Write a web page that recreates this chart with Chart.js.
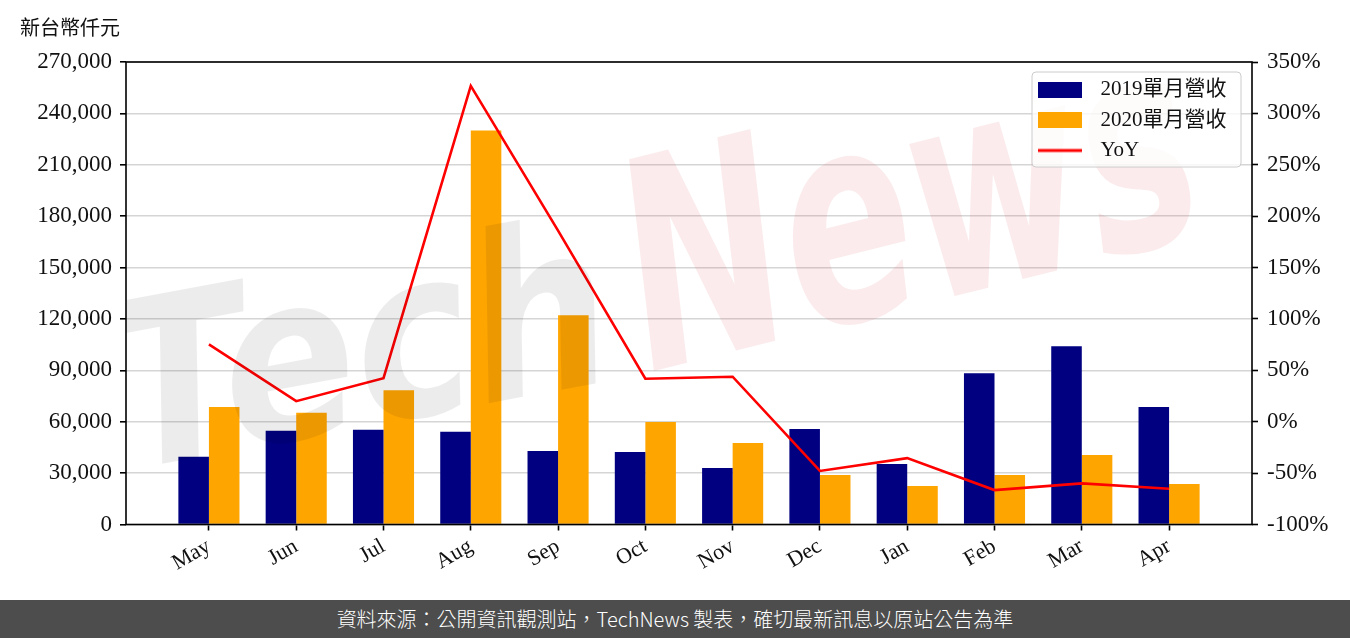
<!DOCTYPE html>
<html lang="zh-Hant-TW">
<head>
<meta charset="utf-8">
<script src="https://cdn.jsdelivr.net/npm/chart.js@4.4.1/dist/chart.umd.min.js"></script>
<style>
  html, body { margin: 0; padding: 0; background: #ffffff; }
  #wrap { width: 1350px; height: 600px; position: relative; }
  #footer { width: 1350px; height: 38px; background: #4d4d4d; color: #ffffff;
    font-family: 'Noto Sans CJK TC', 'Noto Sans', sans-serif; font-size: 20px; font-weight: 300;
    text-align: center; line-height: 38px; }
</style>
</head>
<body>
<div id="wrap"><canvas id="c" width="1350" height="600"></canvas></div>
<div id="footer" lang="zh-Hant-TW">資料來源：公開資訊觀測站，TechNews 製表，確切最新訊息以原站公告為準</div>
<script>
// ---- data ----
const months = ['May', 'Jun', 'Jul', 'Aug', 'Sep', 'Oct', 'Nov', 'Dec', 'Jan', 'Feb', 'Mar', 'Apr'];
const seriesNames = ['2019單月營收', '2020單月營收', 'YoY'];
const rev2019 = [39540, 54700, 55290, 54120, 42870, 42280, 32950, 55700, 35280, 88350, 104100, 68530];
const rev2020 = [68530, 65200, 78440, 230070, 122180, 59780, 47530, 28870, 22450, 28870, 40530, 23620];
const yoy = [75.2, 20.0, 42.4, 326.7, 186.0, 41.8, 43.8, -47.9, -35.4, -66.5, -60.0, -65.2];
const yTitle = '新台幣仟元';
const leftAxis = { min: 0, max: 270000, step: 30000 };
const rightAxis = { min: -100, max: 350, step: 50 };

// ---- styles ----
const LATIN = "'Liberation Serif', 'Noto Sans CJK TC', serif";
const TEXT = '#111111';
const NAVY = '#000080';
const ORANGE = '#FFA500';
const RED = '#FF0000';

function swatch(kind, color) {
  const cv = document.createElement('canvas');
  cv.width = 44; cv.height = 16;
  const g = cv.getContext('2d');
  g.fillStyle = color;
  if (kind === 'rect') g.fillRect(0, 0, 44, 16);
  else g.fillRect(0, 6.5, 44, 3);
  return cv;
}
const swatches = [swatch('rect', NAVY), swatch('rect', ORANGE), swatch('line', RED)];

const frameAndExtras = {
  id: 'frameAndExtras',
  afterDatasetsDraw(chart) {
    const ctx = chart.ctx;
    const a = chart.chartArea;
    // watermark
    ctx.save();
    ctx.beginPath(); ctx.rect(a.left, a.top, a.right - a.left, a.bottom - a.top); ctx.clip();
    ctx.save();
    ctx.font = "bold italic 230px 'DejaVu Sans'";
    ctx.translate(a.left + 2, 470); ctx.rotate(-10.5 * Math.PI / 180); ctx.scale(0.86, 1);
    ctx.fillStyle = 'rgba(0,0,0,0.075)';
    ctx.fillText('Tech', 0, 0);
    ctx.restore();
    ctx.save();
    ctx.font = "bold italic 290px 'DejaVu Sans'";
    ctx.translate(650, 372); ctx.rotate(-14 * Math.PI / 180); ctx.scale(0.66, 1);
    ctx.fillStyle = 'rgba(215,60,70,0.10)';
    ctx.fillText('News', 0, 0);
    ctx.restore();
    ctx.restore();
    // frame
    ctx.save();
    ctx.strokeStyle = '#000000';
    ctx.lineWidth = 1.6;
    ctx.strokeRect(a.left, a.top, a.right - a.left, a.bottom - a.top);
    ctx.restore();
  },
  afterDraw(chart) {
    const lg = chart.legend;
    const saved = lg.options;
    lg.options = {
      display: true, position: 'right', align: 'start', fullSize: false, reverse: false,
      rtl: false, textDirection: undefined, labels: saved.labels, title: saved.title
    };
    lg.update(400, 200, { top: 0, left: 0, right: 0, bottom: 0 });
    const pad = saved.labels.padding;
    const ax = chart.chartArea.right - 222; // legend anchor x
    const ay = chart.chartArea.top + 7.5;   // legend anchor y
    const ctx = chart.ctx;
    ctx.save();
    ctx.beginPath();
    ctx.roundRect(ax + 2, ay + 2.5, 209, 95, 4);
    ctx.fillStyle = 'rgba(255,255,255,0.8)';
    ctx.fill();
    ctx.strokeStyle = '#cccccc';
    ctx.lineWidth = 1;
    ctx.stroke();
    ctx.restore();
    lg.left = ax - pad; lg.right = lg.left + 400;
    lg.top = ay; lg.bottom = ay + 200;
    lg.width = 400; lg.height = 200;
    lg.draw();
    lg.options = saved;
  }
};

const ctx = document.getElementById('c').getContext('2d');
new Chart(ctx, {
  type: 'bar',
  data: {
    datasets: [
      { type: 'bar', label: seriesNames[0], data: rev2019.map((v, i) => ({ x: i, y: v })),
        backgroundColor: NAVY, yAxisID: 'y', order: 2, categoryPercentage: 0.7, barPercentage: 1.0 },
      { type: 'bar', label: seriesNames[1], data: rev2020.map((v, i) => ({ x: i, y: v })),
        backgroundColor: ORANGE, yAxisID: 'y', order: 2, categoryPercentage: 0.7, barPercentage: 1.0 },
      { type: 'line', label: seriesNames[2], data: yoy.map((v, i) => ({ x: i, y: v })),
        borderColor: RED, backgroundColor: RED, borderWidth: 2.6, pointRadius: 0, tension: 0,
        fill: false, yAxisID: 'y1', order: 1 }
    ]
  },
  options: {
    responsive: false,
    animation: false,
    layout: { padding: { left: 20, right: 0, top: 0, bottom: 0 } },
    plugins: {
      title: { display: true, text: yTitle, align: 'start', color: TEXT,
        font: { family: "'Noto Sans CJK TC', sans-serif", size: 20, weight: 'normal' },
        padding: { top: 15, bottom: 23 } },
      legend: {
        display: false, position: 'right', align: 'start',
        labels: {
          usePointStyle: true, pointStyleWidth: 60, boxHeight: 16, padding: 9.5,
          font: { family: LATIN, size: 21 }, color: TEXT,
          generateLabels: (chart) => chart.data.datasets.map((ds, i) => ({
            text: ds.label, fillStyle: ds.type === 'line' ? ds.borderColor : ds.backgroundColor,
            strokeStyle: ds.type === 'line' ? ds.borderColor : ds.backgroundColor,
            lineWidth: 0, hidden: false, datasetIndex: i, pointStyle: swatches[i],
            fontColor: TEXT, textAlign: 'left'
          }))
        }
      },
      tooltip: { enabled: false }
    },
    scales: {
      x: {
        type: 'linear', bounds: 'data', offset: false, min: -0.95, max: months.length - 1 + 0.95,
        afterBuildTicks: (s) => { s.ticks = months.map((m, i) => ({ value: i })); },
        afterFit: (s) => { s.height = 75.5; },
        ticks: { callback: (v) => months[v], minRotation: 30, maxRotation: 30, autoSkip: false,
          includeBounds: false,
          font: { family: LATIN, size: 22 }, color: TEXT, padding: 3 },
        grid: { offset: false, drawOnChartArea: false, tickLength: 6, tickColor: '#000000', tickWidth: 1.6 },
        border: { display: false }
      },
      y: {
        position: 'left', min: leftAxis.min, max: leftAxis.max,
        afterFit: (s) => { s.width = 106; },
        ticks: { stepSize: leftAxis.step, callback: (v) => v.toLocaleString('en-US'),
          font: { family: LATIN, size: 23 }, color: TEXT, padding: 8 },
        grid: { color: '#d5d5d5', lineWidth: 1.6, tickLength: 6, tickColor: '#000000', tickWidth: 1.6 },
        border: { display: false }
      },
      y1: {
        position: 'right', min: rightAxis.min, max: rightAxis.max,
        afterFit: (s) => { s.width = 98; },
        ticks: { stepSize: rightAxis.step, callback: (v) => v + '%',
          font: { family: LATIN, size: 23 }, color: TEXT, padding: 9 },
        grid: { drawOnChartArea: false, tickLength: 6, tickColor: '#000000', tickWidth: 1.6 },
        border: { display: false }
      }
    }
  },
  plugins: [frameAndExtras]
});
</script>
</body>
</html>
